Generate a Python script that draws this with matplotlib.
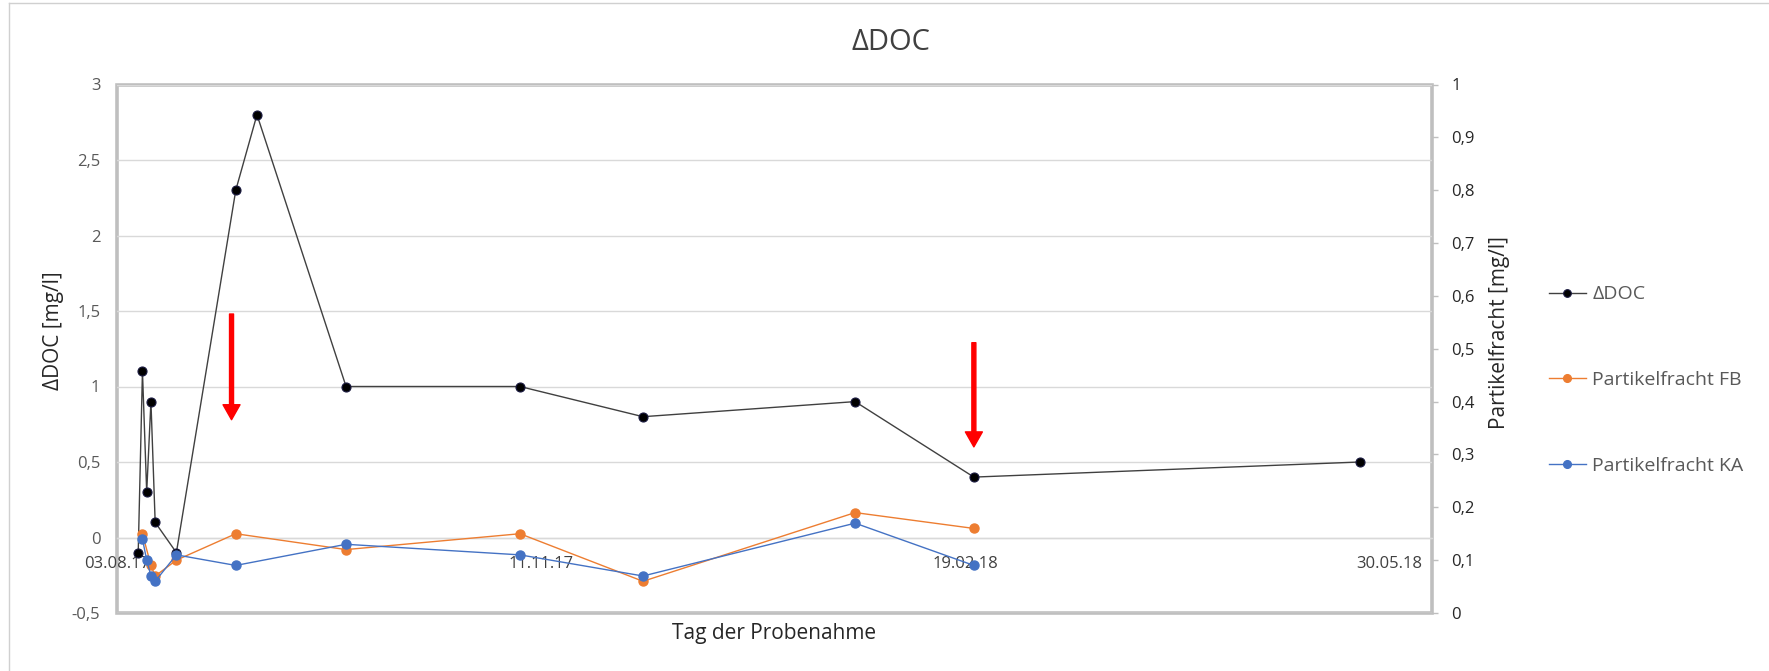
import numpy as np
import pandas as pd
import matplotlib
matplotlib.use("Agg")
import matplotlib.pyplot as plt
import matplotlib.dates as mdates
from matplotlib.ticker import FuncFormatter, MultipleLocator
from matplotlib.lines import Line2D

plt.rcParams['font.family'] = ['Open Sans', 'DejaVu Sans']

# Messwerte
doc_dates = pd.to_datetime(["2017-08-08", "2017-08-09", "2017-08-10", "2017-08-11", "2017-08-12",
                            "2017-08-17", "2017-08-31", "2017-09-05", "2017-09-26", "2017-11-06",
                            "2017-12-05", "2018-01-24", "2018-02-21", "2018-05-23"])
doc_vals = [-0.1, 1.1, 0.3, 0.9, 0.1, -0.1, 2.3, 2.8, 1.0, 1.0, 0.8, 0.9, 0.4, 0.5]

fb_dates = pd.to_datetime(["2017-08-09", "2017-08-11", "2017-08-12", "2017-08-17", "2017-08-31",
                           "2017-09-26", "2017-11-06", "2017-12-05", "2018-01-24", "2018-02-21"])
fb_vals = [0.15, 0.09, 0.07, 0.10, 0.15, 0.12, 0.15, 0.06, 0.19, 0.16]

ka_dates = pd.to_datetime(["2017-08-09", "2017-08-10", "2017-08-11", "2017-08-12", "2017-08-17",
                           "2017-08-31", "2017-09-26", "2017-11-06", "2017-12-05", "2018-01-24",
                           "2018-02-21"])
ka_vals = [0.14, 0.10, 0.07, 0.06, 0.11, 0.09, 0.13, 0.11, 0.07, 0.17, 0.09]

tick_dates = pd.to_datetime(["2017-08-03", "2017-11-11", "2018-02-19", "2018-05-30"])

# Pfeile: (Datum, Start, Spitze) in ΔDOC-Einheiten
arrow_dates = pd.to_datetime(["2017-08-30", "2018-02-21"])
arrow_from = [1.48, 1.29]
arrow_to = [0.78, 0.60]

grau = '#595959'
komma = FuncFormatter(lambda v, p: ('%g' % round(v, 2)).replace('.', ','))

fig = plt.figure(figsize=(17.69, 6.71), dpi=100)
ax = fig.add_axes([117 / 1769, 58 / 671, 1315 / 1769, 528.5 / 671])
ax2 = ax.twinx()

# Linke Achse: ΔDOC
ax.plot(doc_dates, doc_vals, color='#404040', lw=1.0, marker='o', ms=6.5,
        mfc='black', mec='#1a1a40', mew=0.8, label='ΔDOC', zorder=3)
ax.set_ylim(-0.5, 3)
ax.yaxis.set_major_locator(MultipleLocator(0.5))
ax.yaxis.set_major_formatter(komma)
ax.set_xlim(pd.Timestamp("2017-08-03"), pd.Timestamp("2018-06-09"))
ax.set_xticks(tick_dates)
ax.xaxis.set_major_formatter(mdates.DateFormatter('%d.%m.%y'))
ax.grid(axis='y', color='#d9d9d9', lw=1.0)
ax.set_axisbelow(True)

# Datumsachse schneidet bei 0
ax.spines['bottom'].set_position(('data', 0))
ax.spines['bottom'].set_color('#d9d9d9')
ax.spines['bottom'].set_linewidth(1.0)
for s in ['left', 'top', 'right']:
    ax.spines[s].set_visible(False)
for s in ax2.spines.values():
    s.set_visible(False)

ax.tick_params(axis='x', length=0, pad=13, labelsize=12, labelcolor='#404040')
ax.tick_params(axis='y', length=0, pad=12, labelsize=12, labelcolor=grau)

# Rahmen der Zeichenfläche
ax.add_patch(plt.Rectangle((0, 0), 1, 1, transform=ax.transAxes, fill=False,
                           ec='#bfbfbf', lw=2.6, clip_on=False, zorder=0.5))

# Rechte Achse: Partikelfracht
ax2.plot(fb_dates, fb_vals, color='#ed7d31', lw=1.0, marker='o', ms=6.5,
         mfc='#ed7d31', mec='#ed7d31', label='Partikelfracht FB')
ax2.plot(ka_dates, ka_vals, color='#4472c4', lw=1.0, marker='o', ms=6.5,
         mfc='#4472c4', mec='#4472c4', label='Partikelfracht KA')
ax2.set_ylim(0, 1)
ax2.yaxis.set_major_locator(MultipleLocator(0.1))
ax2.yaxis.set_major_formatter(komma)
ax2.tick_params(axis='y', length=4, width=1, color='#bfbfbf', pad=10,
                labelsize=12, labelcolor='#262626')

for d, y0, y1 in zip(arrow_dates, arrow_from, arrow_to):
    ax.annotate('', xy=(d, y1), xytext=(d, y0),
                arrowprops=dict(arrowstyle='simple,head_width=1.7,head_length=1.5,tail_width=0.4',
                                color='red', mutation_scale=7.2, shrinkA=0, shrinkB=0),
                zorder=4)

# Achsentitel
ax.set_ylabel('ΔDOC [mg/l]', fontsize=15, color='#262626')
ax.yaxis.set_label_coords(-0.048, 0.534)
ax.yaxis.label.set_va('center')
ax2.set_ylabel('Partikelfracht [mg/l]', fontsize=15, color='#262626')
ax2.yaxis.set_label_coords(1.051, 0.531)
ax2.yaxis.label.set_va('center')
ax.set_xlabel('Tag der Probenahme', fontsize=15, color='#262626')
ax.xaxis.set_label_coords(0.5, -0.038)
ax.xaxis.label.set_va('center')

fig.text(891 / 1769, 1 - 42 / 671, 'ΔDOC', ha='center', va='center',
         fontsize=21, color='#404040')

# Legende
handles = ax.get_lines()[:1] + ax2.get_lines()
fig.legend(handles, [h.get_label() for h in handles], loc='center left',
           bbox_to_anchor=(1531 / 1769, 1 - 380 / 671), frameon=False,
           fontsize=14, labelcolor=grau, labelspacing=3.48, handlelength=1.95,
           handletextpad=0.3, markerscale=0.85)

# äußerer Rahmen
fig.add_artist(Line2D([9 / 1769, 1], [1 - 3 / 671, 1 - 3 / 671], color='#d0d0d0', lw=1))
fig.add_artist(Line2D([9 / 1769, 9 / 1769], [0, 1 - 3 / 671], color='#d0d0d0', lw=1))

fig.savefig('out.png', dpi=100)
